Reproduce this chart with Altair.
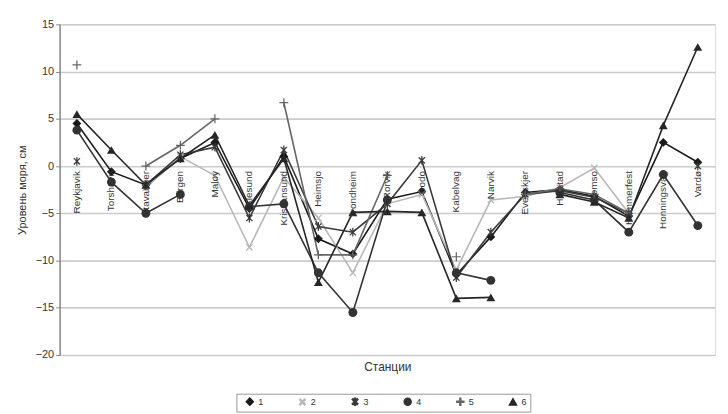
import math
import altair as alt
import pandas as pd

stations = ["Reykjavik", "Torshavn", "Stavanger", "Bergen", "Maloy", "Alesund",
            "Kristiansund", "Heimsjo", "Trondheim", "Rorvik", "Bodo", "Kabelvag",
            "Narvik", "Evenskjer", "Harstad", "Tromso", "Hammerfest", "Honningsvag", "Vardø"]

s1 = [4.5, -0.6, -2.0, 0.8, 2.5, -4.5, 1.0, -7.7, -9.3, -3.5, -2.7, -11.5, -7.5, -2.8, -2.5, -3.2, -5.3, 2.5, 0.4]
s2 = [None, None, -2.3, 1.0, -1.0, -8.6, -1.2, -5.5, -11.3, -4.0, -3.0, -11.0, -3.6, -3.2, -2.3, -0.2, -5.0, None, None]
s3 = [0.5, None, -2.0, 1.2, 2.0, -5.5, 1.7, -6.4, -7.0, -4.0, 0.6, -11.8, -7.0, -3.0, -2.6, -3.3, -5.0, None, 0.0]
s4 = [3.8, -1.7, -5.0, -3.0, None, -4.3, -4.0, -11.3, -15.5, -3.6, None, -11.3, -12.1, None, -2.8, -3.6, -7.0, -0.9, -6.3]
s5 = [10.7, None, 0.0, 2.2, 5.0, None, 6.7, -9.4, -9.4, -1.0, None, -9.6, None, -3.0, -2.4, -3.0, -5.0, None, None]
s6 = [5.5, 1.7, -2.0, 0.8, 3.3, -4.2, 0.8, -12.3, -4.9, -4.8, -4.9, -14.0, -13.9, None, -3.0, -3.8, -5.5, 4.3, 12.6]

series_names = ["1", "2", "3", "4", "5", "6"]
series_values = [s1, s2, s3, s4, s5, s6]
series_colors = ["#1a1a1a", "#b8b8b8", "#3a3a3a", "#333333", "#666666", "#262626"]

# symbol shapes (thin filled polygons for cross-like markers)
w = 0.14
plus_pts = [(-1, -w), (-w, -w), (-w, -1), (w, -1), (w, -w), (1, -w),
            (1, w), (w, w), (w, 1), (-w, 1), (-w, w), (-1, w)]


def poly(pts):
    return "M" + "L".join(f"{x:.3f},{y:.3f}" for x, y in pts) + "Z"


def rot45(pts):
    c = math.sqrt(0.5)
    return [((x - y) * c, (x + y) * c) for x, y in pts]


plus_path = poly(plus_pts)
x_path = poly(rot45(plus_pts))
aster_path = x_path + poly([(-w, -1), (w, -1), (w, 1), (-w, 1)])
series_shapes = ["diamond", x_path, aster_path, "circle", plus_path, "triangle-up"]

rows = []
for name, vals in zip(series_names, series_values):
    for st, v in zip(stations, vals):
        rows.append({"station": st, "series": name, "value": v})
df = pd.DataFrame(rows)
labels_df = pd.DataFrame({"station": stations})

font = "Liberation Sans"

x_enc = alt.X("station:N", sort=stations,
              scale=alt.Scale(type="point", padding=0.5),
              axis=alt.Axis(labels=False, ticks=False, domain=False, grid=False,
                            title="Станции", titleFont=font, titleFontSize=12,
                            titleFontWeight="normal", titleColor="#333",
                            titlePadding=7))
y_enc = alt.Y("value:Q", scale=alt.Scale(domain=[-20, 15], nice=False),
              axis=alt.Axis(values=[-20, -15, -10, -5, 0, 5, 10, 15],
                            title="Уровень моря, см", titleFont=font,
                            titleFontSize=11, titleFontWeight="normal",
                            titleColor="#333", titlePadding=8,
                            labelFont=font, labelFontSize=11, labelColor="#333",
                            domainColor="#888", domainWidth=1.5,
                            tickColor="#888", tickSize=4,
                            gridColor="#cccccc", gridWidth=1.6))

color_scale = alt.Scale(domain=series_names, range=series_colors)
shape_scale = alt.Scale(domain=series_names, range=series_shapes)

legend = alt.Legend(title=None, orient="none", direction="horizontal",
                    legendX=178, legendY=372, columns=6,
                    labelFont=font, labelFontSize=9, labelColor="#333",
                    symbolSize=50, columnPadding=28, symbolOffset=6,
                    padding=3, strokeColor="#999", fillColor="white")

lines = alt.Chart(df).mark_line(strokeWidth=1.6, invalid="break-paths-show-domains").encode(
    x=x_enc, y=y_enc,
    color=alt.Color("series:N", scale=color_scale, legend=legend),
    detail="series:N",
)

points = alt.Chart(df).mark_point(filled=True, opacity=1, size=80).encode(
    x=x_enc, y=y_enc,
    color=alt.Color("series:N", scale=color_scale, legend=legend),
    shape=alt.Shape("series:N", scale=shape_scale, legend=legend),
)

texts = alt.Chart(labels_df).mark_text(angle=270, align="right", baseline="middle",
                                       font=font, fontSize=10, color="#333", dx=-5).encode(
    x=alt.X("station:N", sort=stations),
    y=alt.datum(0),
    text="station:N",
)

chart = alt.layer(lines, points, texts).properties(
    width=660, height=333,
    padding={"left": 8, "top": 9, "right": 5, "bottom": 5},
).configure_view(stroke=None).configure(background="white")

chart.save("out.html", embed_options={"renderer": "svg", "actions": False})
